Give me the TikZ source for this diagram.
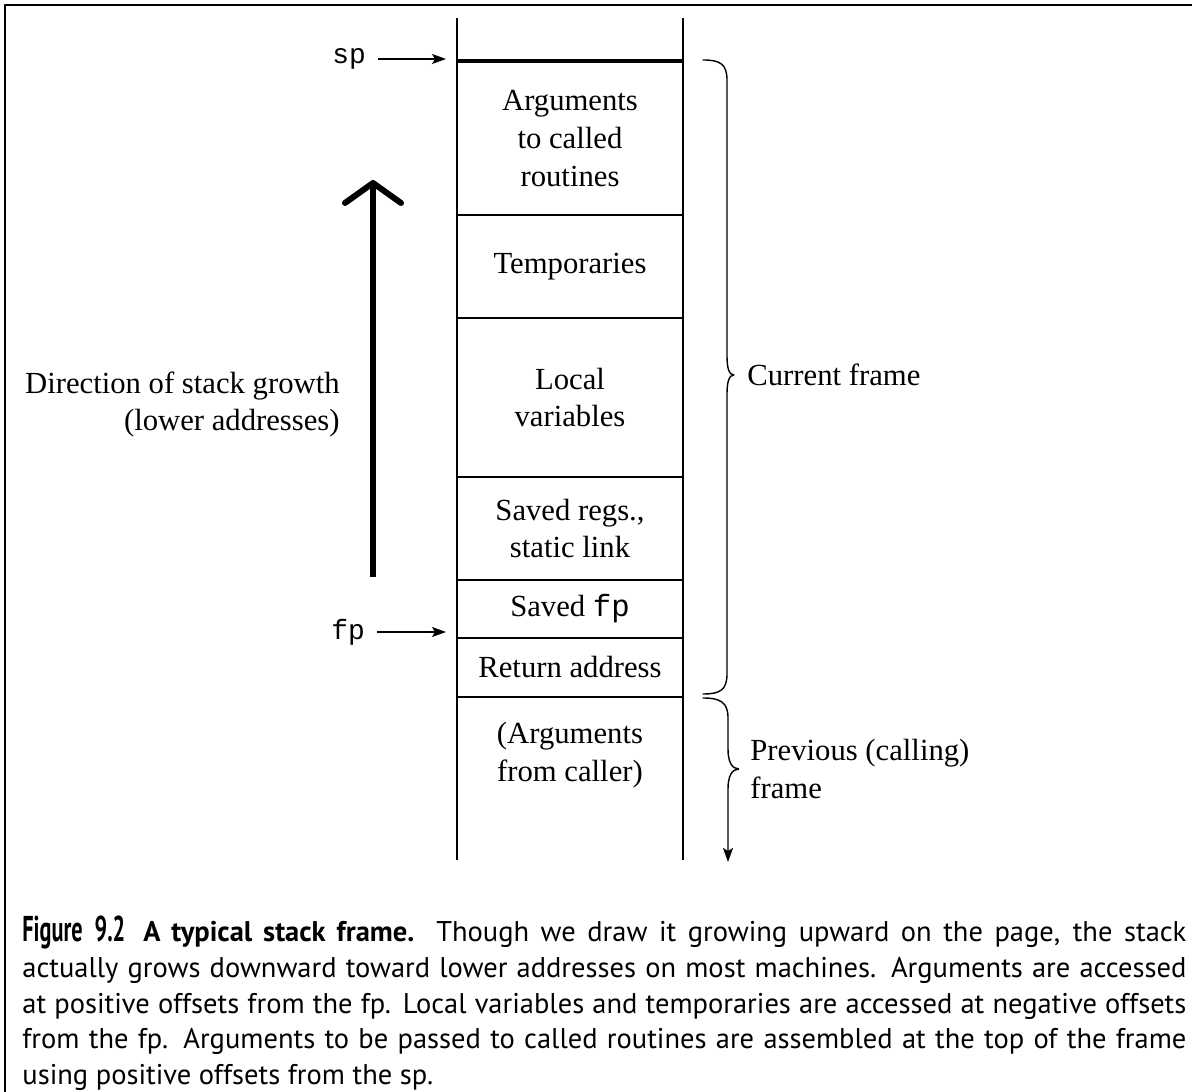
\documentclass[tikz,border=0pt]{standalone}
\usepackage{fontspec}
\setmainfont{Liberation Serif}
\setmonofont{Liberation Mono}
\newfontfamily\capfont{PT Sans}
\newfontfamily\fignumfont[FakeStretch=0.62]{PT Sans}
\usetikzlibrary{arrows.meta}
\tikzset{
  cell/.style={draw,line width=1bp,minimum width=113bp,inner sep=0pt,align=center,
    font=\fontsize{15.4}{19}\selectfont},
  lbl/.style={inner sep=0pt,font=\fontsize{15.4}{19}\selectfont},
  reg/.style={inner sep=0pt,font=\fontsize{14}{16}\selectfont\ttfamily},
  ptr/.style={->,line width=0.6bp,shorten <=6bp,shorten >=5bp},
  rail/.style={line width=1bp},
  brace/.style={line width=0.7bp,line cap=round},
  capline/.style={anchor=base west,inner sep=0pt,font=\fontsize{14.3}{17}\capfont},
}
\begin{document}
\begin{tikzpicture}[>={Stealth[length=7bp,width=5bp,inset=1.5bp]},line join=bevel,]
\useasboundingbox (0bp,0bp) rectangle (596bp,546bp);
%%
\draw [line width=1.2bp] (2.5bp,-5bp) -- (2.5bp,543.5bp) -- (600bp,543.5bp);
%% the stack
\coordinate (railLtop) at (228.5bp,537bp);
\coordinate (railLbot) at (228.5bp,116bp);
\coordinate (railRtop) at (341.5bp,537bp);
\coordinate (railRbot) at (341.5bp,116bp);
\draw [rail] (railLtop) -- (railLbot);
\draw [rail] (railRtop) -- (railRbot);
\node (args) at (285bp,476.75bp) [cell,minimum height=76.5bp] {Arguments\\to called\\routines};
\node (temps) at (285bp,412.75bp) [cell,minimum height=51.5bp] {Temporaries};
\node (locals) at (285bp,347.25bp) [cell,minimum height=79.5bp] {Local\\variables};
\node (savedregs) at (285bp,281.75bp) [cell,minimum height=51.5bp] {Saved regs.,\\static link};
\node (savedfp) at (285bp,241.5bp) [cell,minimum height=29bp] {Saved \texttt{fp}};
\node (retaddr) at (285bp,212.25bp) [cell,minimum height=29.5bp] {Return address};
\node (callerargs) at (285bp,168.5bp) [lbl,align=center] {(Arguments\\from caller)};
\draw [line width=1.6bp] (args.north west) -- (args.north east);
%% pointers
\node (sp) at (174.5bp,516.5bp) [reg] {sp};
\node (fp) at (174bp,230bp) [reg] {fp};
\draw [ptr] (sp.east) -- (sp.east -| args.west);
\draw [ptr] (fp.east) -- (fp.east -| retaddr.west);
%% growth
\coordinate (growbot) at (186.5bp,257.5bp);
\coordinate (growtop) at (186.5bp,456bp);
\draw [line width=3bp,-{Straight Barb[length=10bp,width=28bp,round]}] (growbot) -- (growtop);
\node (growth) at (170bp,343.75bp) [lbl,anchor=east,align=right] {Direction of stack growth\\(lower addresses)};
%% frames
\draw [brace] (351.5bp,516bp) ..controls (360bp,516bp) and (363.5bp,514bp) .. (363.5bp,506bp)
  -- (363.5bp,368bp) ..controls (363.5bp,362bp) and (364.5bp,358.5bp) .. (367bp,358.5bp)
  ..controls (364.5bp,358.5bp) and (363.5bp,355bp) .. (363.5bp,349bp)
  -- (363.5bp,209bp) ..controls (363.5bp,201bp) and (360bp,199bp) .. (351.5bp,199bp);
\node (curframe) at (373.5bp,358.5bp) [lbl,anchor=west] {Current frame};
\draw [brace,->] (351.5bp,197bp) ..controls (360bp,197bp) and (364bp,195bp) .. (364bp,187bp)
  -- (364bp,171.5bp) ..controls (364bp,165bp) and (366bp,161.5bp) .. (369.5bp,161.5bp)
  ..controls (366bp,161.5bp) and (364bp,158bp) .. (364bp,151.5bp) -- (364bp,115bp);
\node (prevframe) at (375bp,161.5bp) [lbl,anchor=west,align=left] {Previous (calling)\\frame};
%% caption
\node (cap1) at (11bp,75bp) [capline] {\makebox[582bp][s]{{\fignumfont\bfseries\fontsize{18}{20}\selectfont Figure\hspace{6bp}9.2}\hspace{9bp}{\bfseries A typical stack frame.} Though we draw it growing upward on the page, the stack}};
\node (cap2) at (11bp,57.25bp) [capline] {\makebox[582bp][s]{actually grows downward toward lower addresses on most machines. Arguments are accessed}};
\node (cap3) at (11bp,39.5bp) [capline] {\makebox[582bp][s]{at positive offsets from the fp. Local variables and temporaries are accessed at negative offsets}};
\node (cap4) at (11bp,21.75bp) [capline] {\makebox[582bp][s]{from the fp. Arguments to be passed to called routines are assembled at the top of the frame}};
\node (cap5) at (11bp,4bp) [capline] {using positive offsets from the sp.};
%
\end{tikzpicture}
\end{document}
